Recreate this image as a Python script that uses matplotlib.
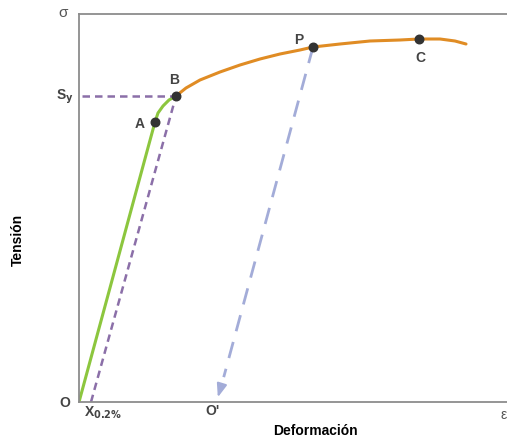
import numpy as np
import matplotlib
matplotlib.use("Agg")
from matplotlib import pyplot as plt

plt.rcParams['font.family'] = ['Liberation Sans', 'DejaVu Sans']

# elastic part (green) and plastic part (orange), arbitrary units
elastic_x = [0, 38, 70, 76, 79, 84, 90, 97]
elastic_y = [0, 140, 258, 280, 289, 296, 302, 306]
plastic_x = [97, 107, 121, 141, 161, 181, 201, 221, 234, 261, 291, 321, 340, 361, 376, 387]
plastic_y = [306, 314, 322, 330, 337, 343, 348, 352, 355, 358, 361, 362, 363, 363, 361, 358]

# named points
point_names = ["A", "B", "P", "C"]
point_x = [76, 97, 234, 340]
point_y = [280, 306, 355, 363]
label_offsets = [(-11, -1), (-1, 12), (-10, 6), (1, -13)]

offset_x = 12      # X0.2%
unload_x = 138     # O'
x_max, y_max = 428, 388

fig = plt.figure(figsize=(5.07, 4.39), dpi=100)
ax = fig.add_axes([79 / 507, 36 / 439, 428 / 507, 388 / 439])
ax.set_xlim(0, x_max)
ax.set_ylim(0, y_max)
ax.set_xticks([])
ax.set_yticks([])
for side in ["left", "top", "bottom"]:
    ax.spines[side].set_color("#8c8c8c")
    ax.spines[side].set_linewidth(1.3)
ax.spines["right"].set_visible(False)

ax.plot(elastic_x, elastic_y, color="#8cc63e", lw=2.2, solid_capstyle="round", solid_joinstyle="round")
ax.plot(plastic_x, plastic_y, color="#e08c24", lw=2.2, solid_capstyle="round", solid_joinstyle="round")

# 0.2% offset construction
ax.plot([3, point_x[1]], [point_y[1], point_y[1]], color="#8b6fa8", lw=1.8, ls=(0, (3, 2)))
ax.plot([offset_x, point_x[1]], [0, point_y[1]], color="#8b6fa8", lw=1.8, ls=(0, (3, 2)))

# unloading from P
px, py = point_x[2], point_y[2]
t = 0.93
ax.plot([px, px + (unload_x - px) * t], [py, py * (1 - t)], color="#a3acd8", lw=2, ls=(0, (6, 4)))
ax.annotate("", xy=(unload_x, 2), xytext=(px + (unload_x - px) * 0.95, py * 0.05),
            arrowprops=dict(arrowstyle="-|>,head_length=0.8,head_width=0.3", color="#a3acd8", lw=1.5))

ax.scatter(point_x, point_y, s=38, color="#333333", zorder=5)
for name, x, y, (dx, dy) in zip(point_names, point_x, point_y, label_offsets):
    ax.annotate(name, (x, y), xytext=(dx, dy), textcoords="offset points",
                ha="center", va="center", fontsize=10, color="#444444", fontweight="bold")

lab = dict(fontsize=10, color="#444444", ha="center", va="center", fontweight="bold")
ax.text(-16, y_max + 2, "σ", fontsize=11, color="#555555", ha="center", va="center")
ax.text(-14, point_y[1], "S$_\\mathbf{y}$", **lab)
ax.text(-14, 0, "O", **lab)
ax.text(offset_x + 12, -10, "X$_\\mathbf{0.2\\%}$", **lab)
ax.text(unload_x - 4, -8, "O'", **lab)
ax.text(x_max, -12, "ε", fontsize=10, color="#555555", ha="right", va="center")

fig.text(315 / 507, 1 - 431 / 439, "Deformación", fontsize=10, fontweight="bold", ha="center", va="center")
fig.text(18 / 507, 1 - 240 / 439, "Tensión", fontsize=10, fontweight="bold", ha="center", va="center", rotation=90)

fig.savefig("out.png", dpi=100)
